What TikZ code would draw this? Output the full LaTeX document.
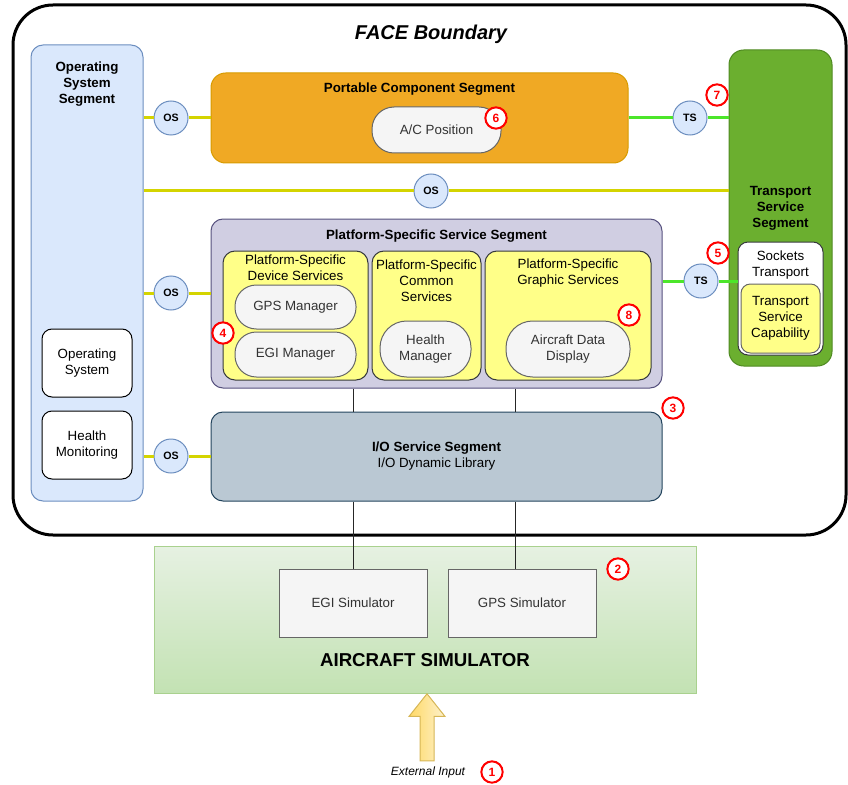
\documentclass[tikz,border=0pt]{standalone}
\usepackage{fontspec}
\setmainfont{Liberation Sans}
\usetikzlibrary{shapes.arrows}

\definecolor{osfill}{HTML}{DAE8FC}
\definecolor{osdraw}{HTML}{6C8EBF}
\definecolor{pcfill}{HTML}{F0A924}
\definecolor{pcdraw}{HTML}{D79B00}
\definecolor{tsfill}{HTML}{6BAF2F}
\definecolor{tsdraw}{HTML}{4F8A22}
\definecolor{psfill}{HTML}{D0CEE2}
\definecolor{psdraw}{HTML}{56517E}
\definecolor{svfill}{HTML}{FFFF88}
\definecolor{svdraw}{HTML}{36393D}
\definecolor{pillfill}{HTML}{F5F5F5}
\definecolor{pilldraw}{HTML}{666666}
\definecolor{pilltext}{HTML}{333333}
\definecolor{iofill}{HTML}{BAC8D3}
\definecolor{iodraw}{HTML}{23445D}
\definecolor{simtop}{HTML}{E6F1E2}
\definecolor{simbot}{HTML}{C3E2B3}
\definecolor{simdraw}{HTML}{A9D18E}
\definecolor{oslinecol}{HTML}{D4D400}
\definecolor{tslinecol}{HTML}{4CE62A}
\definecolor{argtop}{HTML}{FDF1CC}
\definecolor{argbot}{HTML}{FFD966}
\definecolor{argdraw}{HTML}{D6B656}

\tikzset{
  base/.style={font=\fontsize{10}{12}\selectfont, align=center, inner sep=0pt},
  segbox/.style={base, draw, line width=0.75pt, rounded corners=9pt},
  svcbox/.style={segbox, fill=svfill, draw=svdraw},
  pill/.style={base, draw=pilldraw, fill=pillfill, text=pilltext, line width=0.75pt},
  whitebox/.style={segbox, fill=white, draw=black, rounded corners=7.5pt},
  simbox/.style={base, draw=pilldraw, fill=pillfill, text=pilltext, line width=0.75pt,
    minimum width=111pt, minimum height=51pt},
  iface/.style={circle, draw=osdraw, fill=osfill, line width=0.75pt, minimum size=25.5pt,
    inner sep=0pt, font=\bfseries\fontsize{8}{9}\selectfont},
  badge/.style={circle, draw=red, fill=white, text=red, line width=1.5pt, minimum size=16pt,
    inner sep=0pt, font=\bfseries\fontsize{9}{10}\selectfont},
  title/.style={base, font=\bfseries\fontsize{10}{12}\selectfont},
  osconn/.style={draw=oslinecol, line width=2.25pt},
  tsconn/.style={draw=tslinecol, line width=2.25pt},
  busline/.style={draw=black!85, line width=0.75pt, double=white, double distance=1.8pt},
  inarrow/.style={single arrow, rotate=90, draw=argdraw, left color=argbot, right color=argtop,
    line width=0.75pt, minimum height=50.25pt, minimum width=26.25pt, inner xsep=0pt,
    inner ysep=4.875pt, single arrow head extend=8.25pt, single arrow tip angle=77}
}

\begin{document}
\begin{tikzpicture}[x=0.75pt, y=-0.75pt]
  \useasboundingbox (0,0) rectangle (848,784);

  \node[draw, line width=2.25pt, rounded corners=30pt, minimum width=624.75pt,
    minimum height=397.5pt] (face) at (429.5,270) {};
  \node[font=\bfseries\itshape\fontsize{15}{18}\selectfont] (facetitle) at (431,34) {FACE Boundary};

  \node[segbox, fill=osfill, draw=osdraw, minimum width=84pt, minimum height=342pt] (osseg) at (87,273) {};
  \node[title] (osttl) at (87,84) {Operating\\System\\Segment};
  \node[whitebox, minimum width=67.5pt, minimum height=51pt] (ossys) at (87,363) {Operating\\System};
  \node[whitebox, minimum width=67.5pt, minimum height=51pt] (health) at (87,445) {Health\\Monitoring};

  \node[segbox, fill=pcfill, draw=pcdraw, rounded corners=11pt, minimum width=312.75pt,
    minimum height=67.5pt] (pcs) at (419.5,118) {};
  \node[title] (pcsttl) at (419.5,89) {Portable Component Segment};
  \node[pill, rounded corners=16.5pt, minimum width=96.75pt, minimum height=34.5pt] (acpos) at (436.5,130) {A/C Position};

  \node[segbox, fill=tsfill, draw=tsdraw, rounded corners=11pt, minimum width=77.25pt,
    minimum height=237pt, font=\bfseries\fontsize{10}{12}\selectfont] (tss) at (780.5,208) {Transport\\Service\\Segment};
  \node[whitebox, draw=svdraw, minimum width=63.75pt, minimum height=84.75pt] (sockets) at (780.5,298.5) {};
  \node[base] (sockttl) at (780.5,265) {Sockets\\Transport};
  \node[svcbox, draw=pilldraw, rounded corners=7pt, minimum width=59.25pt, minimum height=51.75pt] (tscap) at (780.5,318.5) {Transport\\Service\\Capability};

  \node[segbox, fill=psfill, draw=psdraw, minimum width=338.25pt, minimum height=126.75pt] (pss) at (436.5,303.5) {};
  \node[title] (psttl) at (436.5,236) {Platform-Specific Service Segment};
  \node[svcbox, minimum width=108.75pt, minimum height=96.75pt] (psds) at (295.5,315.5) {};
  \node[base] (psdsttl) at (295.5,268) {Platform-Specific\\Device Services};
  \node[pill, rounded corners=16pt, minimum width=90.75pt, minimum height=33pt] (gpsmgr) at (295.5,307) {GPS Manager};
  \node[pill, rounded corners=16pt, minimum width=90.75pt, minimum height=33.75pt] (egimgr) at (295.5,354.5) {EGI Manager};
  \node[svcbox, minimum width=81.75pt, minimum height=96.75pt] (pscs) at (426.5,315.5) {};
  \node[base] (pscsttl) at (426.5,281) {Platform-Specific\\Common\\Services};
  \node[pill, rounded corners=20pt, minimum width=68.25pt, minimum height=42pt] (healthmgr) at (425.5,349) {Health\\Manager};
  \node[svcbox, minimum width=124.5pt, minimum height=96.75pt] (psgs) at (568,315.5) {};
  \node[base] (psgsttl) at (568,273) {Platform-Specific\\Graphic Services};
  \node[pill, rounded corners=20pt, minimum width=93pt, minimum height=42pt] (adisp) at (568,349) {Aircraft Data\\Display};

  \node[segbox, fill=iofill, draw=iodraw, minimum width=338.25pt, minimum height=66.75pt] (ioss) at (436.5,456.5)
    {\textbf{I/O Service Segment}\\I/O Dynamic Library};

  \node[base, draw=simdraw, line width=0.75pt, top color=simtop, bottom color=simbot,
    minimum width=406.5pt, minimum height=110.25pt] (acsim) at (425,619.5) {};
  \node[font=\bfseries\fontsize{14}{16}\selectfont] (acttl) at (425,660) {AIRCRAFT SIMULATOR};
  \node[simbox] (egisim) at (353,603) {EGI Simulator};
  \node[simbox] (gpssim) at (522,603) {GPS Simulator};

  \node[inarrow, anchor=tip] (inarrow) at (427,693) {};
  \node[font=\itshape\fontsize{9}{11}\selectfont] (extin) at (428,772) {External Input};

  \node[iface] (os1) at (171,118) {OS};
  \node[iface] (os2) at (431,191) {OS};
  \node[iface] (os3) at (171,293) {OS};
  \node[iface] (os4) at (171,456) {OS};
  \node[iface] (ts1) at (690,118) {TS};
  \node[iface] (ts2) at (701,281) {TS};

  \begin{scope}[osconn]
    \draw (os1.west -| osseg.east) -- (os1.west);
    \draw (os1.east) -- (os1.east -| pcs.west);
    \draw (os2.west -| osseg.east) -- (os2.west);
    \draw (os2.east) -- (os2.east -| tss.west);
    \draw (os3.west -| osseg.east) -- (os3.west);
    \draw (os3.east) -- (os3.east -| pss.west);
    \draw (os4.west -| osseg.east) -- (os4.west);
    \draw (os4.east) -- (os4.east -| ioss.west);
  \end{scope}
  \begin{scope}[tsconn]
    \draw (ts1.west -| pcs.east) -- (ts1.west);
    \draw (ts1.east) -- (ts1.east -| tss.west);
    \draw (ts2.west -| pss.east) -- (ts2.west);
    \draw (ts2.east) -- (ts2.east -| sockets.west);
  \end{scope}
  \begin{scope}[busline]
    \draw (egisim.north |- pss.south) -- (egisim.north |- ioss.north);
    \draw (egisim.north |- ioss.south) -- (egisim.north);
    \draw ([xshift=-5.25pt]gpssim.north |- pss.south) -- ([xshift=-5.25pt]gpssim.north |- ioss.north);
    \draw ([xshift=-5.25pt]gpssim.north |- ioss.south) -- ([xshift=-5.25pt]gpssim.north);
  \end{scope}

  \node[badge] (b1) at (492,772) {1};
  \node[badge] (b2) at (618,569) {2};
  \node[badge] (b3) at (673,408) {3};
  \node[badge] (b4) at (223,333) {4};
  \node[badge] (b5) at (718,253) {5};
  \node[badge] (b6) at (496,118) {6};
  \node[badge] (b7) at (717,95) {7};
  \node[badge] (b8) at (629,315) {8};
\end{tikzpicture}
\end{document}
